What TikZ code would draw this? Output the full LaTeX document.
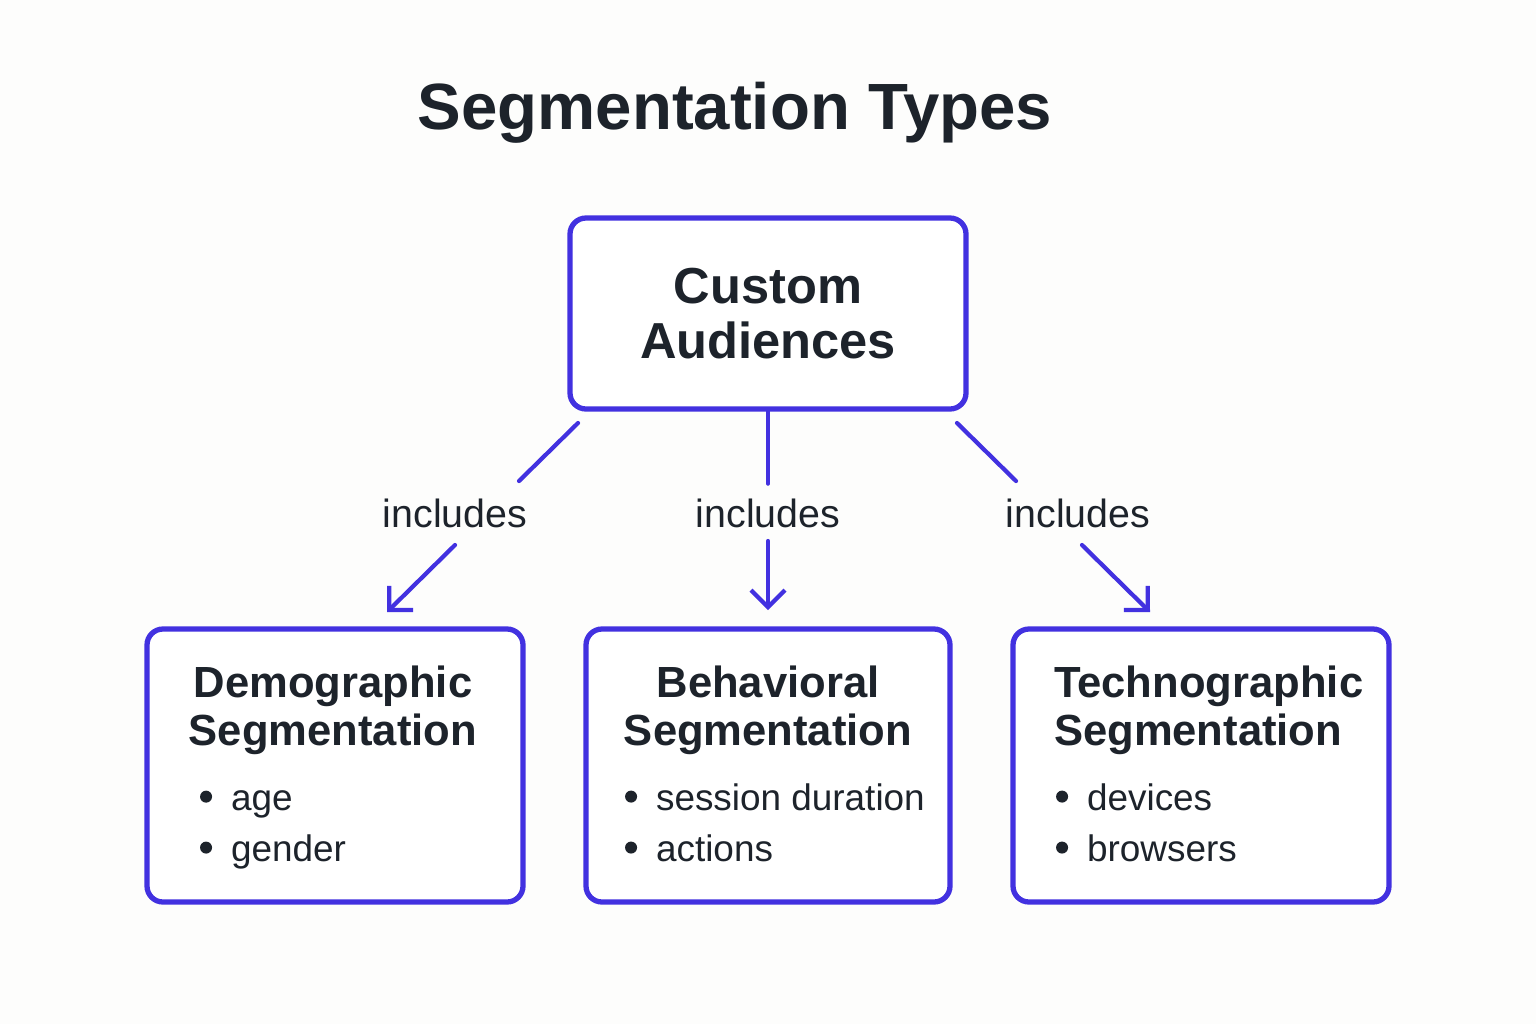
\documentclass[tikz,border=0pt]{standalone}
\usepackage{fontspec}
\setmainfont{Liberation Sans}
\usetikzlibrary{arrows.meta,positioning}
\definecolor{segblue}{HTML}{4231E0}
\definecolor{ink}{HTML}{1D232B}
\definecolor{paper}{HTML}{FDFDFC}
\newcommand{\itemdot}{\raisebox{0.22em}{\tikz\fill[ink] (0,0) circle (0.06cm);}\hspace{1.9mm}}

\begin{document}
\begin{tikzpicture}[
  box/.style={draw=segblue,line width=1.5pt,rounded corners=0.16cm,fill=white},
  link/.style={segblue,line width=1.2pt,line cap=round},
  arr/.style={link,-{Straight Barb[length=1.7mm,width=3.4mm]}},
  lbl/.style={text=ink,font=\fontsize{11.2}{13}\selectfont},
  head/.style={text=ink,font=\fontsize{12.4}{13.7}\selectfont\bfseries,inner sep=0pt},
  items/.style={text=ink,align=left,font=\fontsize{10.5}{14.5}\selectfont,inner sep=0pt}
]
\fill[paper] (0,0) rectangle (15.36,-10.24);
\useasboundingbox (0,0) rectangle (15.36,-10.24);

\node [text=ink,font=\fontsize{18.6}{22}\selectfont\bfseries] (title) at (7.35,-1.13) {Segmentation Types};
\node [box,minimum width=3.96cm,minimum height=1.91cm,align=center,text=ink,
    font=\fontsize{14.4}{15.6}\selectfont\bfseries] (top) at (7.68,-3.135) {Custom\\Audiences};

\node [box,minimum width=3.76cm,minimum height=2.73cm] (demo) at (3.35,-7.655) {};
\node [box,minimum width=3.64cm,minimum height=2.73cm] (behav) at (7.68,-7.655) {};
\node [box,minimum width=3.76cm,minimum height=2.73cm] (techno) at (12.01,-7.655) {};

\node [head,align=center,below=0.39cm of demo.north,xshift=-0.02cm] (demohead) {Demographic\\Segmentation};
\node [head,align=center,below=0.39cm of behav.north] (behavhead) {Behavioral\\Segmentation};
\node [head,align=left,anchor=north west] (technohead) at ([xshift=0.43cm,yshift=-0.39cm]techno.north west) {Technographic\\Segmentation};

\node [items,anchor=west] (demoitems) at ([xshift=0.55cm,yshift=-0.645cm]demo.west) {\itemdot age\\\itemdot gender};
\node [items,anchor=west] (behavitems) at ([xshift=0.41cm,yshift=-0.575cm]behav.west) {\itemdot session duration\\\itemdot actions};
\node [items,anchor=west] (technoitems) at ([xshift=0.45cm,yshift=-0.575cm]techno.west) {\itemdot devices\\\itemdot browsers};

\node [lbl] (inc1) at (4.55,-5.13) {includes};
\node [lbl] (inc2) at (7.68,-5.13) {includes};
\node [lbl] (inc3) at (10.78,-5.13) {includes};

\coordinate [right=0.32cm of inc1.center] (m1);
\coordinate (m2) at (inc2.center);
\coordinate [left=0.29cm of inc3.center] (m3);

\draw [link] (m1) ++(0.91,0.90) -- ++(-0.59,-0.58);
\draw [arr] (m1) ++(-0.32,-0.32) -- ++(-0.68,-0.67);
\draw [link] (top.south) -- ++(0,-0.72);
\draw [arr] (m2) ++(0,-0.28) -- ++(0,-0.69);
\draw [link] (m3) ++(-0.92,0.90) -- ++(0.59,-0.58);
\draw [arr] (m3) ++(0.33,-0.32) -- ++(0.68,-0.67);
\end{tikzpicture}
\end{document}
